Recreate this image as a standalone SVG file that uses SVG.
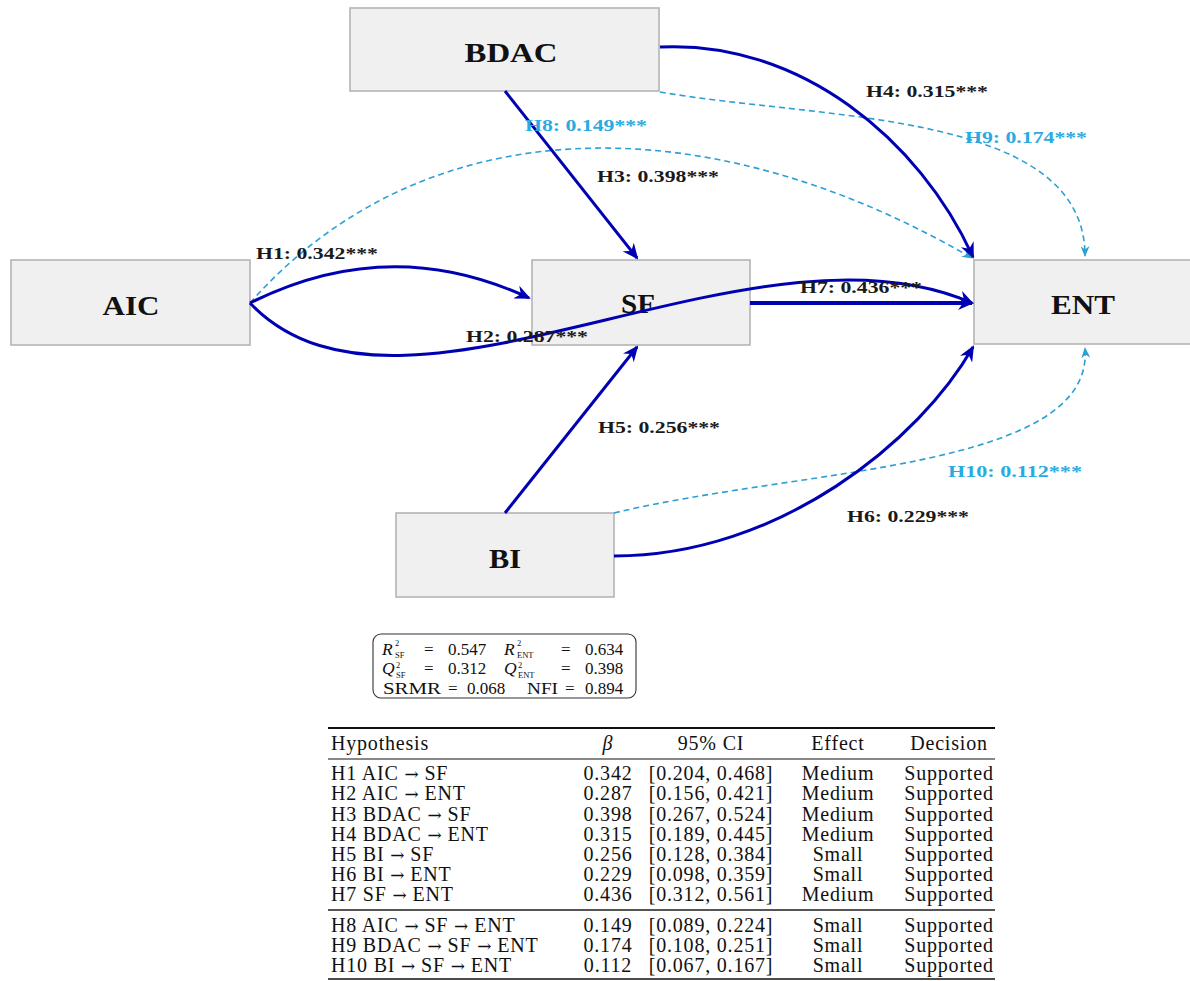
<svg xmlns="http://www.w3.org/2000/svg" width="1190" height="981" viewBox="0 0 1190 981">
<style>
.node rect{fill:#f0f0f0;stroke:#b4b4b4;stroke-width:1.6}
.nl{font-family:"Liberation Serif",serif;font-weight:bold;font-size:28px;text-anchor:middle;fill:#111}
.solid{fill:none;stroke:#0000b3;stroke-width:3}
.dash{fill:none;stroke:#2c9fd3;stroke-width:1.6;stroke-dasharray:6 4}
.el{font-family:"Liberation Serif",serif;font-weight:bold;font-size:16px;fill:#1a1a1a}
.el.c{fill:#29abe2}
.st{font-family:"Liberation Serif",serif;font-size:17px;fill:#111}
.st .i{font-style:italic;font-size:17.5px}
.sm{font-size:8.5px}
.t{font-family:"Liberation Serif",serif;font-size:20px;fill:#111;letter-spacing:0.8px}
.ar{font-family:"DejaVu Serif",serif;font-size:17px;letter-spacing:0}
.m{text-anchor:middle}
</style>
<defs>
<marker id="ah" viewBox="0 0 16 14" refX="14" refY="7" markerWidth="16" markerHeight="14" markerUnits="userSpaceOnUse" orient="auto"><path d="M0,0 L16,7 L0,14 L5,7 z" fill="#0000b3"/></marker>
<marker id="ahc" viewBox="0 0 11 9" refX="10" refY="4.5" markerWidth="11" markerHeight="9" markerUnits="userSpaceOnUse" orient="auto"><path d="M0,0 L11,4.5 L0,9 L3.5,4.5 z" fill="#2c9fd3"/></marker>
</defs>
<rect width="1190" height="981" fill="#ffffff"/>

<g id="BDAC" class="node"><rect x="350" y="8" width="309" height="83"/><text class="nl" x="511" y="62" textLength="93" lengthAdjust="spacingAndGlyphs">BDAC</text></g>
<g id="AIC" class="node"><rect x="11" y="260" width="239" height="85"/><text class="nl" x="131" y="315" textLength="57" lengthAdjust="spacingAndGlyphs">AIC</text></g>
<g id="SF" class="node"><rect x="532" y="260" width="218" height="85"/><text class="nl" x="638" y="313" textLength="34" lengthAdjust="spacingAndGlyphs">SF</text></g>
<g id="ENT" class="node"><rect x="974" y="260" width="220" height="84"/><text class="nl" x="1083" y="314" textLength="64" lengthAdjust="spacingAndGlyphs">ENT</text></g>
<g id="BI" class="node"><rect x="396" y="513" width="218" height="84"/><text class="nl" x="505" y="568" textLength="32" lengthAdjust="spacingAndGlyphs">BI</text></g>

<g id="connectors">
<path class="dash" d="M250,303 C420,110 700,100 972,258" marker-end="url(#ahc)"/>
<path class="dash" d="M660,92 C820,120 1085,110 1085,256" marker-end="url(#ahc)"/>
<path class="dash" d="M614,513 C800,468 1095,470 1085,348" marker-end="url(#ahc)"/>
<path class="solid" d="M250,303 Q390,233 529,298" marker-end="url(#ah)"/>
<path class="solid" d="M250,303 C400,460 750,205 972,303" marker-end="url(#ah)"/>
<path class="solid" d="M505,91 L637,258" marker-end="url(#ah)"/>
<path class="solid" d="M660,47 C800,40 920,140 973,257" marker-end="url(#ah)"/>
<path class="solid" d="M505,513 L637,347" marker-end="url(#ah)"/>
<path class="solid" d="M614,556 C780,556 920,440 973,347" marker-end="url(#ah)"/>
<path class="solid" style="stroke-width:4" d="M750,303 L972,303" marker-end="url(#ah)"/>
</g>

<g id="edge-labels">
<text class="el" x="256" y="259" textLength="122" lengthAdjust="spacingAndGlyphs">H1: 0.342***</text>
<text class="el" x="466" y="342" textLength="122" lengthAdjust="spacingAndGlyphs">H2: 0.287***</text>
<text class="el" x="597" y="182" textLength="122" lengthAdjust="spacingAndGlyphs">H3: 0.398***</text>
<text class="el" x="866" y="97" textLength="122" lengthAdjust="spacingAndGlyphs">H4: 0.315***</text>
<text class="el" x="598" y="433" textLength="122" lengthAdjust="spacingAndGlyphs">H5: 0.256***</text>
<text class="el" x="847" y="522" textLength="122" lengthAdjust="spacingAndGlyphs">H6: 0.229***</text>
<text class="el" x="800" y="293" textLength="122" lengthAdjust="spacingAndGlyphs">H7: 0.436***</text>
<text class="el c" x="525" y="131" textLength="122" lengthAdjust="spacingAndGlyphs">H8: 0.149***</text>
<text class="el c" x="965" y="143" textLength="122" lengthAdjust="spacingAndGlyphs">H9: 0.174***</text>
<text class="el c" x="948" y="477" textLength="134" lengthAdjust="spacingAndGlyphs">H10: 0.112***</text>
</g>

<g id="stats">
<rect x="373" y="634" width="263" height="64" rx="8" fill="#ffffff" stroke="#333" stroke-width="1.1"/>
<text class="st"><tspan class="i" x="382" y="655">R</tspan><tspan class="sm" x="395" y="646">2</tspan><tspan class="sm" x="395" y="658">SF</tspan><tspan x="424" y="655">=</tspan><tspan x="448" y="655">0.547</tspan><tspan class="i" x="504" y="655">R</tspan><tspan class="sm" x="517" y="646">2</tspan><tspan class="sm" x="517" y="658">ENT</tspan><tspan x="561" y="655">=</tspan><tspan x="585" y="655">0.634</tspan><tspan class="i" x="382" y="674">Q</tspan><tspan class="sm" x="396" y="668">2</tspan><tspan class="sm" x="396" y="678">SF</tspan><tspan x="424" y="674">=</tspan><tspan x="448" y="674">0.312</tspan><tspan class="i" x="504" y="674">Q</tspan><tspan class="sm" x="518" y="668">2</tspan><tspan class="sm" x="518" y="678">ENT</tspan><tspan x="561" y="674">=</tspan><tspan x="585" y="674">0.398</tspan><tspan x="383" y="693.5" textLength="58" lengthAdjust="spacingAndGlyphs">SRMR</tspan><tspan x="448" y="693.5">=</tspan><tspan x="467" y="693.5">0.068</tspan><tspan x="527" y="693.5" textLength="31" lengthAdjust="spacingAndGlyphs">NFI</tspan><tspan x="565" y="693.5">=</tspan><tspan x="585" y="693.5">0.894</tspan></text>
</g>

<g id="table">
<line x1="328" y1="728" x2="995" y2="728" stroke="#111" stroke-width="2"/>
<line x1="328" y1="759" x2="995" y2="759" stroke="#111" stroke-width="1"/>
<line x1="328" y1="910" x2="995" y2="910" stroke="#555" stroke-width="2.2"/>
<line x1="328" y1="979" x2="995" y2="979" stroke="#111" stroke-width="1.5"/>
<g class="t">
<text x="331" y="750">Hypothesis</text>
<text class="m" x="608" y="750" font-style="italic">β</text>
<text class="m" x="711" y="750">95% CI</text>
<text class="m" x="838" y="750">Effect</text>
<text class="m" x="949" y="750">Decision</text>

<text x="331" y="780">H1 AIC <tspan class="ar">→</tspan> SF</text><text class="m" x="608" y="780">0.342</text><text class="m" x="711" y="780">[0.204, 0.468]</text><text class="m" x="838" y="780">Medium</text><text class="m" x="949" y="780">Supported</text>
<text x="331" y="800">H2 AIC <tspan class="ar">→</tspan> ENT</text><text class="m" x="608" y="800">0.287</text><text class="m" x="711" y="800">[0.156, 0.421]</text><text class="m" x="838" y="800">Medium</text><text class="m" x="949" y="800">Supported</text>
<text x="331" y="821">H3 BDAC <tspan class="ar">→</tspan> SF</text><text class="m" x="608" y="821">0.398</text><text class="m" x="711" y="821">[0.267, 0.524]</text><text class="m" x="838" y="821">Medium</text><text class="m" x="949" y="821">Supported</text>
<text x="331" y="841">H4 BDAC <tspan class="ar">→</tspan> ENT</text><text class="m" x="608" y="841">0.315</text><text class="m" x="711" y="841">[0.189, 0.445]</text><text class="m" x="838" y="841">Medium</text><text class="m" x="949" y="841">Supported</text>
<text x="331" y="861">H5 BI <tspan class="ar">→</tspan> SF</text><text class="m" x="608" y="861">0.256</text><text class="m" x="711" y="861">[0.128, 0.384]</text><text class="m" x="838" y="861">Small</text><text class="m" x="949" y="861">Supported</text>
<text x="331" y="881">H6 BI <tspan class="ar">→</tspan> ENT</text><text class="m" x="608" y="881">0.229</text><text class="m" x="711" y="881">[0.098, 0.359]</text><text class="m" x="838" y="881">Small</text><text class="m" x="949" y="881">Supported</text>
<text x="331" y="901">H7 SF <tspan class="ar">→</tspan> ENT</text><text class="m" x="608" y="901">0.436</text><text class="m" x="711" y="901">[0.312, 0.561]</text><text class="m" x="838" y="901">Medium</text><text class="m" x="949" y="901">Supported</text>

<text x="331" y="932">H8 AIC <tspan class="ar">→</tspan> SF <tspan class="ar">→</tspan> ENT</text><text class="m" x="608" y="932">0.149</text><text class="m" x="711" y="932">[0.089, 0.224]</text><text class="m" x="838" y="932">Small</text><text class="m" x="949" y="932">Supported</text>
<text x="331" y="952">H9 BDAC <tspan class="ar">→</tspan> SF <tspan class="ar">→</tspan> ENT</text><text class="m" x="608" y="952">0.174</text><text class="m" x="711" y="952">[0.108, 0.251]</text><text class="m" x="838" y="952">Small</text><text class="m" x="949" y="952">Supported</text>
<text x="331" y="972">H10 BI <tspan class="ar">→</tspan> SF <tspan class="ar">→</tspan> ENT</text><text class="m" x="608" y="972">0.112</text><text class="m" x="711" y="972">[0.067, 0.167]</text><text class="m" x="838" y="972">Small</text><text class="m" x="949" y="972">Supported</text>
</g>
</g>
</svg>
